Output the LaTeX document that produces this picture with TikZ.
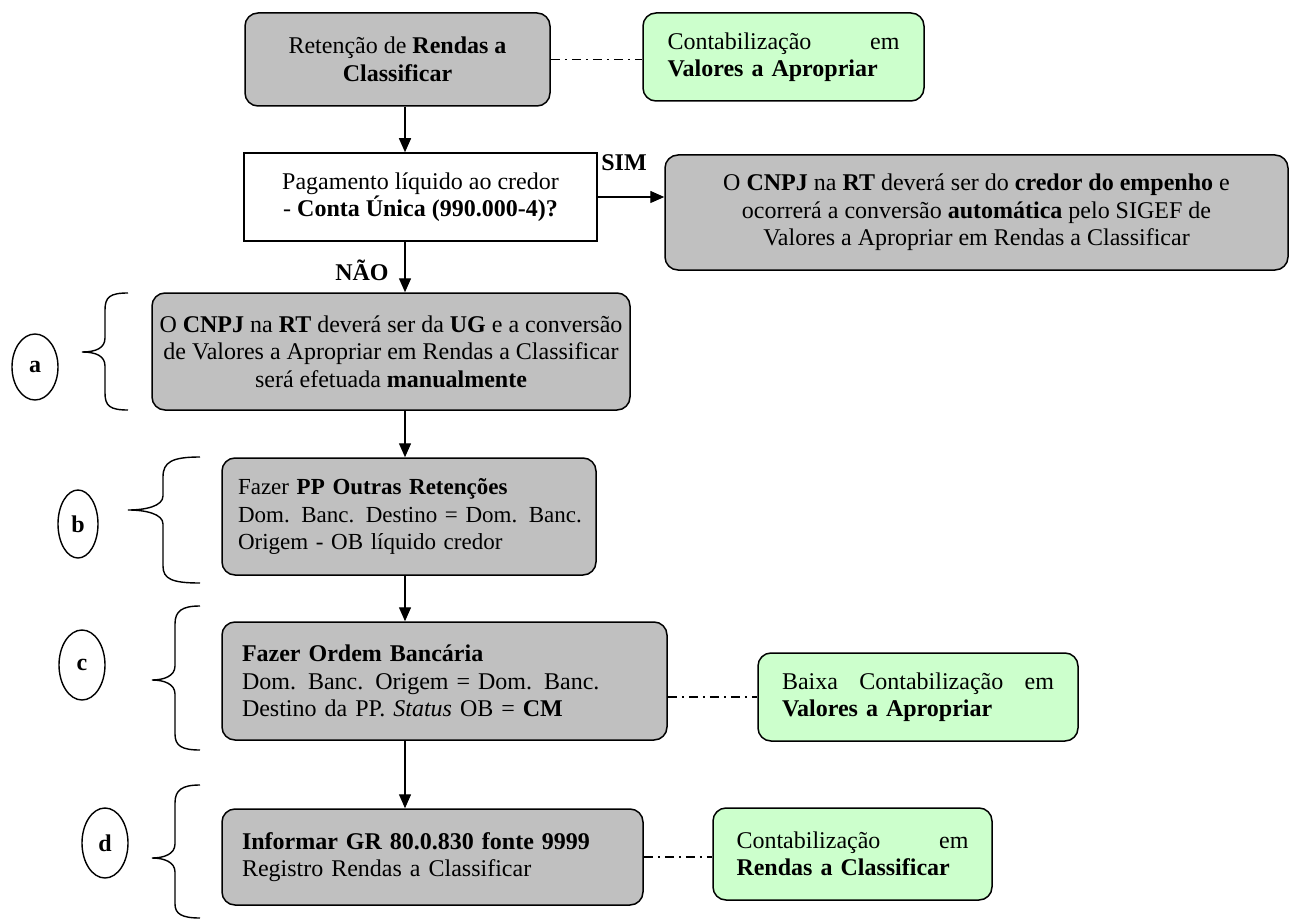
\documentclass[tikz,border=0pt]{standalone}
\usepackage{fontspec}
\setmainfont{Liberation Serif}
\usetikzlibrary{arrows.meta,shapes.geometric}
\definecolor{boxgray}{RGB}{192,192,192}
\definecolor{boxgreen}{RGB}{204,255,204}
\begin{document}
\begin{tikzpicture}[x=1pt,y=-1pt,
  font=\fontsize{24}{27.5}\selectfont,
  gbox/.style={draw, line width=1.5pt, fill=boxgray, rounded corners=13pt, inner ysep=0pt},
  grbox/.style={draw, line width=1.5pt, fill=boxgreen, rounded corners=13pt, inner ysep=0pt},
  wbox/.style={draw, line width=1.5pt, fill=white, inner ysep=0pt},
  arr/.style={line width=1.4pt, -{Triangle[length=14pt,width=12pt]}},
  dashdot/.style={line width=1.2pt, dash pattern=on 9pt off 5pt on 2pt off 5pt},
  bracestyle/.style={line width=1.4pt},
  tag/.style={draw, ellipse, line width=1.4pt, inner sep=0pt, font=\fontsize{24}{27.5}\selectfont\bfseries},
  lbl/.style={inner sep=0pt, font=\fontsize{24}{27.5}\selectfont\bfseries}]
\useasboundingbox (0,0) rectangle (1290,920);
\coordinate (sp) at (405,0);

% top row
\node[gbox, minimum width=305, minimum height=93, align=center] (r1) at (397.5,59.5)
  {Retenção de \textbf{Rendas a}\\\textbf{Classificar}};
\node[grbox, minimum width=281, minimum height=88, text width=232, inner xsep=24.5pt, align=left] (g1) at (783.5,57)
  {Contabilização\hfill em\\\textbf{Valores a Apropriar}};

% decision
\node[wbox, minimum width=353, minimum height=88, align=center] (q) at (420.5,197)
  {Pagamento líquido ao credor\\- \textbf{Conta Única (990.000-4)?}};
\node[gbox, minimum width=623, minimum height=115, align=center] (s) at (976.5,212.5)
  {O \textbf{CNPJ} na \textbf{RT} deverá ser do \textbf{credor do empenho} e\\ocorrerá a conversão \textbf{automática} pelo SIGEF de\\Valores a Apropriar em Rendas a Classificar};

% steps
\node[gbox, minimum width=478, minimum height=117, align=center] (a) at (391,351.5)
  {O \textbf{CNPJ} na \textbf{RT} deverá ser da \textbf{UG} e a conversão\\de Valores a Apropriar em Rendas a Classificar\\será efetuada \textbf{manualmente}};
\node[gbox, minimum width=374, minimum height=117, text width=342, inner xsep=16pt, align=left,
  font=\fontsize{23}{27.5}\selectfont] (b) at (409,516.5)
  {Fazer \textbf{PP Outras Retenções}\\\makebox[342pt][s]{Dom. Banc. Destino = Dom. Banc.}\\Origem - OB líquido credor};
\node[gbox, minimum width=445, minimum height=118, text width=405, inner xsep=20pt, align=left] (c) at (444.5,681)
  {\textbf{Fazer Ordem Bancária}\\\makebox[405pt][s]{Dom. Banc. Origem = Dom. Banc.}\\Destino da PP. \textit{Status} OB = \textbf{CM}};
\node[gbox, minimum width=421, minimum height=96, text width=381, inner xsep=20pt, align=left] (d) at (432.5,857)
  {\textbf{Informar GR 80.0.830 fonte 9999}\\Registro Rendas a Classificar};

% green side boxes
\node[grbox, minimum width=320, minimum height=88, text width=272, inner xsep=24pt, align=left] (g2) at (918,697)
  {Baixa\hfill Contabilização\hfill em\\\textbf{Valores a Apropriar}};
\node[grbox, minimum width=279, minimum height=92, text width=232, inner xsep=23.5pt, align=left] (g3) at (852.5,854)
  {Contabilização\hfill em\\\textbf{Rendas a Classificar}};

% labels
\node[lbl] (sim) at (624,163) {SIM};
\node[lbl] (nao) at (362,270) {NÃO};

% tags
\node[tag, minimum width=46, minimum height=66] (ta) at (35,367) {a};
\node[tag, minimum width=40, minimum height=68] (tb) at (78,524) {b};
\node[tag, minimum width=46, minimum height=70] (tc) at (82,665) {c};
\node[tag, minimum width=46, minimum height=70] (td) at (105,843) {d};

% braces
\draw[bracestyle] (128,293) .. controls (110,293) and (105,297) .. (105,310) -- (105,338)
  .. controls (105,348) and (96,352) .. (82,352) .. controls (96,352) and (105,356) .. (105,366)
  -- (105,393) .. controls (105,406) and (110,410) .. (128,410);
\draw[bracestyle] (200,457) .. controls (172,457) and (163,462) .. (163,477) -- (163,496)
  .. controls (163,506) and (146,510) .. (128,510) .. controls (146,510) and (163,514) .. (163,524)
  -- (163,566) .. controls (163,579) and (172,583) .. (200,583);
\draw[bracestyle] (200,606) .. controls (182,606) and (175,611) .. (175,624) -- (175,666)
  .. controls (175,676) and (164,680) .. (152,680) .. controls (164,680) and (175,684) .. (175,694)
  -- (175,734) .. controls (175,746) and (182,750) .. (200,750);
\draw[bracestyle] (200,785) .. controls (182,785) and (175,790) .. (175,803) -- (175,844)
  .. controls (175,854) and (164,858) .. (152,858) .. controls (164,858) and (175,862) .. (175,872)
  -- (175,904) .. controls (175,914) and (182,918) .. (200,918);

% connectors
\draw[arr] (sp |- r1.south) -- (sp |- q.north);
\draw[arr] (q.east) -- (s.west |- q.east);
\draw[arr] (sp |- q.south) -- (sp |- a.north);
\draw[arr] (sp |- a.south) -- (sp |- b.north);
\draw[arr] (sp |- b.south) -- (sp |- c.north);
\draw[arr] (sp |- c.south) -- (sp |- d.north);

\draw[dashdot] (r1.east) -- (g1.west |- r1.east);
\draw[dashdot] (c.east |- g2.west) -- (g2.west);
\draw[dashdot] (d.east) -- (g3.west |- d.east);
\end{tikzpicture}
\end{document}
